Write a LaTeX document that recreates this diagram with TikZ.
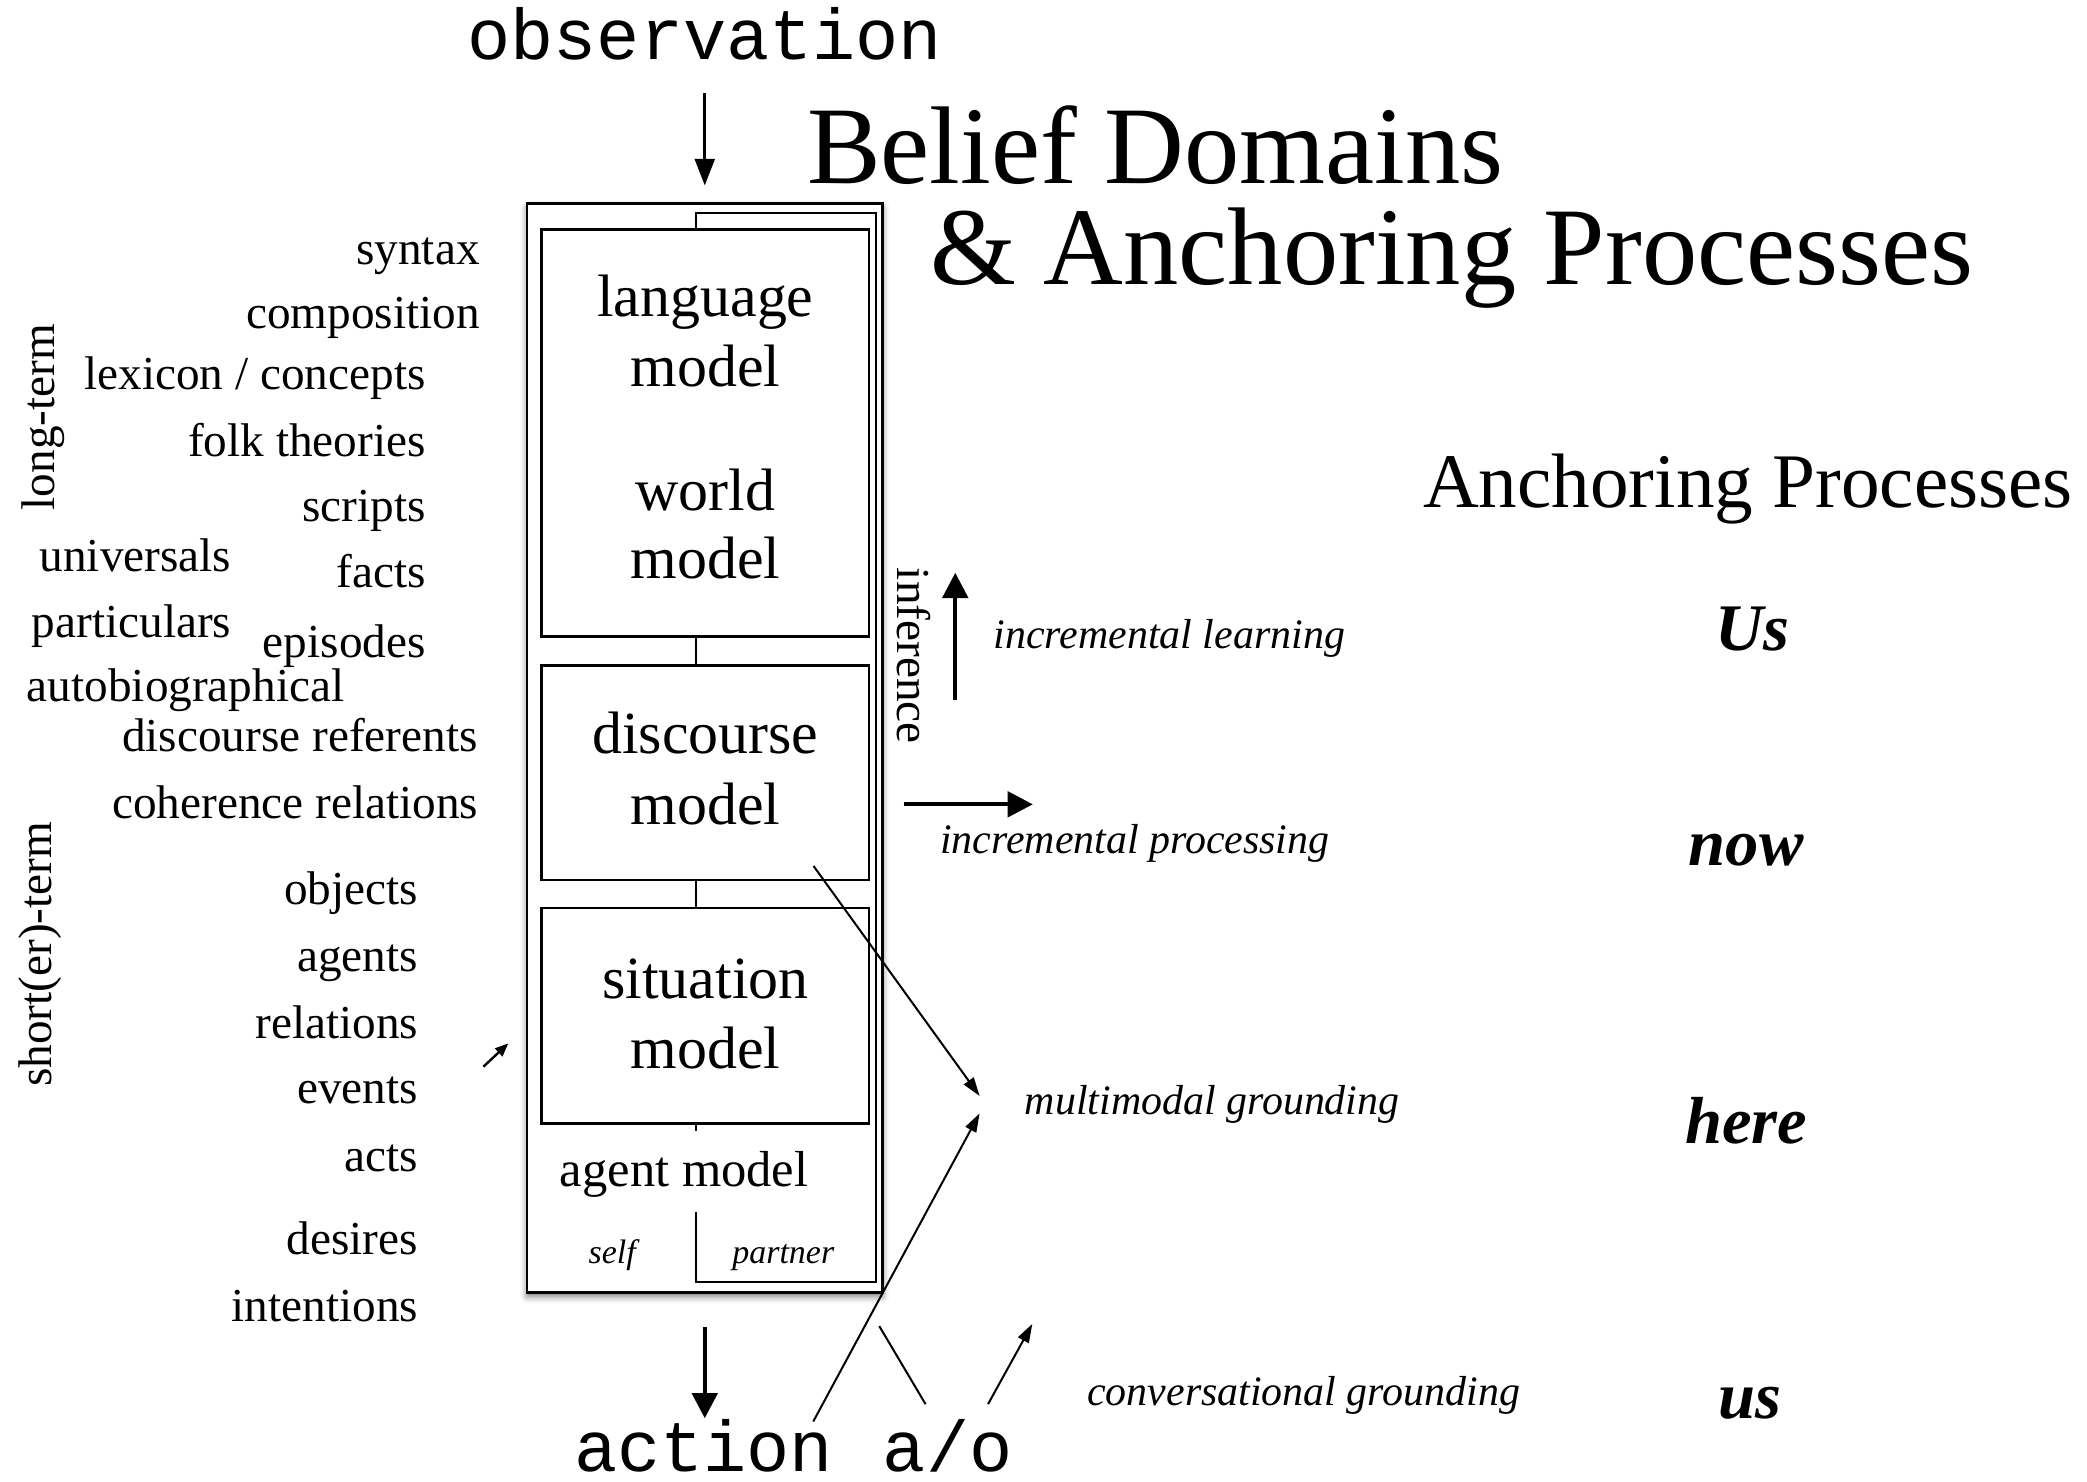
\documentclass[tikz,border=0pt]{standalone}
\usepackage{fontspec}
\setmainfont{Liberation Serif}
\setmonofont{Liberation Mono}
\usetikzlibrary{arrows.meta,shadows.blur}
\newcommand{\fsz}[1]{\fontsize{#1}{#1}\selectfont}
\begin{document}
\begin{tikzpicture}[x=1pt,y=-1pt,
  box/.style={draw, line width=2pt, fill=white, inner sep=0pt},
  lbl/.style={inner sep=0pt, anchor=base east, font=\fsz{35.5}},
  lblw/.style={inner sep=0pt, anchor=base west, font=\fsz{35.5}},
  vlbl/.style={inner sep=0pt, anchor=base, font=\fsz{35.5}},
  boxlbl/.style={inner sep=0pt, anchor=base, font=\fsz{45}},
  proc/.style={inner sep=0pt, anchor=base west, font=\fsz{31.5}\itshape},
  anc/.style={inner sep=0pt, anchor=base, font=\fsz{50}\bfseries\itshape},
  ttlbl/.style={inner sep=0pt, anchor=base, font=\fsz{54}\ttfamily},
  titlelbl/.style={inner sep=0pt, anchor=base west, font=\fsz{83}},
  bigarrow/.style={line width=3.2pt, -{Triangle[length=19pt,width=19pt]}},
  obsarrow/.style={line width=2pt, -{Triangle[length=20pt,width=15pt]}},
  thinarrow/.style={line width=1.5pt, -{Triangle[length=14pt,width=9pt]}},
  smallarrow/.style={line width=1.8pt, -{Triangle[length=10pt,width=8pt]}},
]
\useasboundingbox (0,0) rectangle (1568,1113);

% title
\node[titlelbl] (title1) at (606.3,137.7) {Belief Domains};
\node[titlelbl] (title2) at (698.7,214.1) {\& Anchoring Processes};

% observation / action
\node[ttlbl] (obs) at (529.5,44.6) {observation};
\node[ttlbl] (act) at (528.7,1105.5) {action};
\node[ttlbl] (ao) at (712,1105.5) {a/o};

% boxes
\node[box, minimum width=267pt, minimum height=818pt,
      blur shadow={shadow xshift=0pt, shadow yshift=-3pt, shadow blur radius=5pt, shadow opacity=55}]
      (outer) at (529.5,562) {};
\node[draw, line width=1.5pt, fill=white, inner sep=0pt, minimum width=135.5pt, minimum height=803pt]
      (partnerbox) at (590.75,561.5) {};
\node[box, minimum width=246pt, minimum height=306pt] (lw) at (530,325.3) {};
\node[box, minimum width=246pt, minimum height=161pt] (disc) at (530,580.7) {};
\node[box, minimum width=246pt, minimum height=162pt] (sit) at (530,763.1) {};

\node[boxlbl] (lang1) at (530,237.9) {language};
\node[boxlbl] (lang2) at (530,290.5) {model};
\node[boxlbl] (world1) at (530,383.2) {world};
\node[boxlbl] (world2) at (530,434.5) {model};
\node[boxlbl] (disc1) at (530,566.2) {discourse};
\node[boxlbl] (disc2) at (530,619.1) {model};
\node[boxlbl] (sit1) at (530,750) {situation};
\node[boxlbl] (sit2) at (530,803) {model};

\node[inner sep=0pt, anchor=base, font=\fsz{38}, fill=white, text height=42pt, text depth=19pt]
      (agent) at (514,891.8) {agent model};
\node[inner sep=0pt, anchor=base, font=\fsz{25.5}\itshape] (self) at (460,949.4) {self};
\node[inner sep=0pt, anchor=base, font=\fsz{25.5}\itshape] (partner) at (588.5,949) {partner};

% left labels
\node[lbl] (l1) at (360.6,198.6) {syntax};
\node[lbl] (l2) at (360.6,246.9) {composition};
\node[lbl] (l3) at (320,292.4) {lexicon / concepts};
\node[lbl] (l4) at (320,342.9) {folk theories};
\node[lbl] (l5) at (320,391.7) {scripts};
\node[lbl] (l6) at (174,429.3) {universals};
\node[lbl] (l7) at (320,441.4) {facts};
\node[lbl] (l8) at (174,479) {particulars};
\node[lbl] (l9) at (320,493.7) {episodes};
\node[lblw] (l10) at (20,527.3) {autobiographical};
\node[lbl] (l11) at (359,564.8) {discourse referents};
\node[lbl] (l12) at (359.4,615) {coherence relations};
\node[lbl] (l13) at (314.3,679.6) {objects};
\node[lbl] (l14) at (314.3,729.9) {agents};
\node[lbl] (l15) at (314.3,780.2) {relations};
\node[lbl] (l16) at (314.3,829.1) {events};
\node[lbl] (l17) at (314.3,880.3) {acts};
\node[lbl] (l18) at (314.3,942.7) {desires};
\node[lbl] (l19) at (314.3,993) {intentions};
\node[vlbl, rotate=90] (longterm) at (41.3,313.4) {long-term};
\node[vlbl, rotate=90] (shortterm) at (38.8,717) {short(er)-term};
\node[vlbl, rotate=-90] (inference) at (674.5,492.7) {inference};

% processes
\node[proc] (p1) at (746.4,487) {incremental learning};
\node[proc] (p2) at (706.2,641.1) {incremental processing};
\node[proc] (p3) at (769.8,837.7) {multimodal grounding};
\node[proc] (p4) at (816.7,1055.6) {conversational grounding};

% anchoring
\node[inner sep=0pt, anchor=base west, font=\fsz{58}] (anch) at (1069,381) {Anchoring Processes};
\node[anc] (a1) at (1316.3,489) {Us};
\node[anc] (a2) at (1312,650.2) {now};
\node[anc] (a3) at (1312,859) {here};
\node[anc] (a4) at (1314.6,1065.4) {us};

% connectors
\coordinate (acttip) at (529.5,1065.6);
\coordinate (mgsrc) at (611.2,650.6);
\coordinate (mgtip1) at (736,823.4);
\coordinate (aosrc) at (611,1068);
\coordinate (mgtip2) at (736,836.5);
\coordinate (bsA) at (660.6,996.3);
\coordinate (bsB) at (695.4,1055);
\coordinate (cvA) at (742.3,1055);
\coordinate (cvB) at (775.6,994.7);
\coordinate (smA) at (363.2,801.4);
\coordinate (smB) at (381.9,783.9);
\coordinate (learnA) at (717.7,526);
\coordinate (learnB) at (717.7,430.3);
\coordinate (procA) at (678.9,604.3);
\coordinate (procB) at (776,604.3);

\draw[obsarrow, shorten <=25.4pt, shorten >=12.7pt] (obs.base) -- (outer.north);
\draw[bigarrow, shorten <=25.3pt] (outer.south) -- (acttip);
\draw[thinarrow] (mgsrc) -- (mgtip1);
\draw[thinarrow] (aosrc) -- (mgtip2);
\draw[line width=1.5pt] (bsA) -- (bsB);
\draw[thinarrow] (cvA) -- (cvB);
\draw[smallarrow] (smA) -- (smB);
\draw[bigarrow] (learnA) -- (learnB);
\draw[bigarrow] (procA) -- (procB);
\end{tikzpicture}
\end{document}
